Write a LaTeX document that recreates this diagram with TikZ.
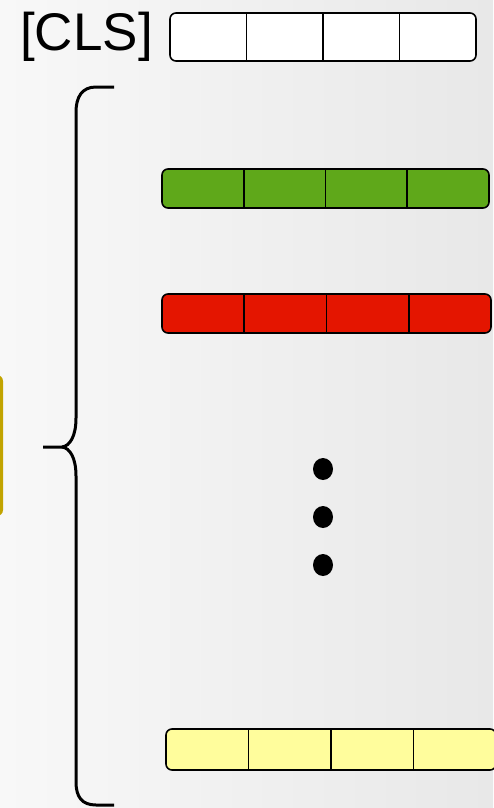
\documentclass[tikz,border=0pt]{standalone}
\usepackage{fontspec}
\setmainfont{Liberation Sans}
\definecolor{bggl}{HTML}{F8F8F8}
\definecolor{bggr}{HTML}{E8E8E8}
\definecolor{cgreen}{HTML}{5FA81A}
\definecolor{cred}{HTML}{E41500}
\definecolor{cyellow}{HTML}{FFFD9C}
\definecolor{cgold}{HTML}{C2A400}
\tikzset{
  vec/.style={draw=black, line width=1.6pt, rounded corners=6pt},
  sep/.style={draw=black, line width=1.8pt},
  brace/.style={draw=black, line width=3pt},
  dot/.style={fill=black, draw=none},
}
\begin{document}
\begin{tikzpicture}[x=1pt,y=-1pt]
\useasboundingbox (0,0) rectangle (493,808);
\shade[left color=bggl, right color=bggr] (0,0) rectangle (493,808);
% gold box edge
\fill[cgold, rounded corners=6pt] (-20,375) rectangle (3,516);
% CLS label
\node[anchor=east, inner sep=0pt, font=\fontsize{53}{62}\selectfont] (cls) at (153,37) {[CLS]};
% vectors
\newcommand{\vecrow}[6]{%
  \path[vec, fill=#6] (#1,#2) rectangle (#3,#4);
  \foreach \i in {1,2,3} {
    \draw[sep] ({#1+(#3-#1)*\i/4},#2) -- ({#1+(#3-#1)*\i/4},#4);
  }
  \node[inner sep=0pt, minimum size=0pt] (#5) at ({(#1+#3)/2},{(#2+#4)/2}) {};
}
\vecrow{170}{13}{476}{61}{vcls}{white}
\vecrow{162}{169}{489}{208}{vg}{cgreen}
\vecrow{162}{294}{491}{333}{vr}{cred}
\vecrow{166}{729}{496}{770}{vy}{cyellow}
% dots
\fill[dot] (323,469) ellipse (10 and 11);
\fill[dot] (323,517) ellipse (10 and 11);
\fill[dot] (323,565) ellipse (10 and 11);
% brace
\draw[brace] (114,87) -- (96,87) .. controls (82,87) and (76,97) .. (76,112)
  -- (76,418) .. controls (76,436) and (70,446) .. (62,447) -- (43,447);
\draw[brace] (62,447) .. controls (70,448) and (76,458) .. (76,476)
  -- (76,782) .. controls (76,797) and (82,805) .. (96,805) -- (114,805);
\end{tikzpicture}
\end{document}
